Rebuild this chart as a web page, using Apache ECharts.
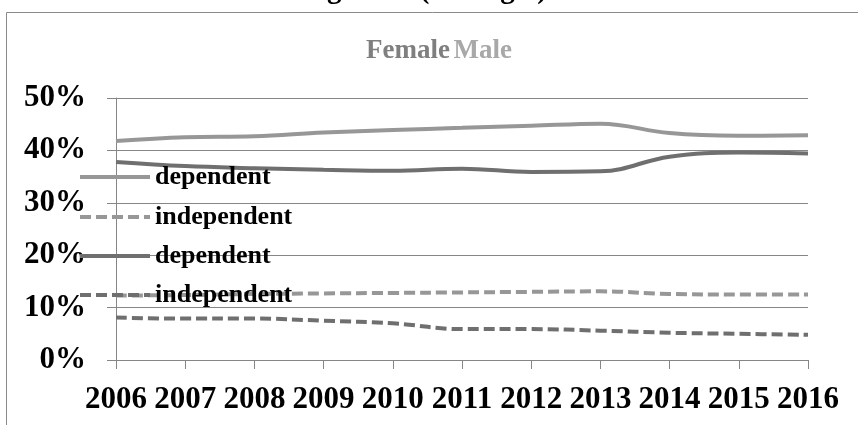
<!DOCTYPE html>
<html>
<head>
<meta charset="utf-8">
<script src="https://cdn.jsdelivr.net/npm/echarts@6/dist/echarts.min.js"></script>
<style>
  html, body { margin: 0; padding: 0; background: #fff; }
  #chart { width: 858px; height: 425px; }
</style>
</head>
<body>
<div id="chart"></div>
<script>
const years = ['2006', '2007', '2008', '2009', '2010', '2011', '2012', '2013', '2014', '2015', '2016'];
const femaleDependent = [41.8, 42.5, 42.7, 43.4, 43.9, 44.3, 44.7, 45.1, 43.3, 42.8, 42.9];
const femaleIndependent = [12.3, 12.4, 12.6, 12.7, 12.8, 12.9, 13.0, 13.1, 12.6, 12.5, 12.5];
const maleDependent = [37.8, 37.0, 36.6, 36.3, 36.1, 36.5, 35.9, 36.0, 38.8, 39.6, 39.4];
const maleIndependent = [8.1, 7.9, 7.9, 7.5, 7.0, 5.9, 5.9, 5.6, 5.2, 5.0, 4.8];

const serif = '"Liberation Serif", "Times New Roman", serif';
const lightGray = '#979797';
const darkGray = '#6f6f6f';

function lineSeries(name, data, color, dashed) {
  return {
    name: name,
    type: 'line',
    data: data,
    smooth: 0.4,
    symbol: 'none',
    color: color,
    lineStyle: { color: color, width: 4, type: dashed ? [11, 5] : 'solid', cap: 'butt' },
    z: 3
  };
}

function legendItem(name, top) {
  return {
    data: [name],
    orient: 'vertical',
    left: 78,
    top: top,
    itemWidth: 70,
    itemHeight: 14,
    itemGap: 0,
    padding: 0,
    selectedMode: false,
    itemStyle: { opacity: 0 },
    lineStyle: { width: 4, opacity: 1 },
    formatter: n => n.split(' ')[1],
    textStyle: { fontFamily: serif, fontWeight: 'bold', fontSize: 26, color: '#000' }
  };
}

const chart = echarts.init(document.getElementById('chart'));
chart.setOption({
  animation: false,
  graphic: [
    {
      type: 'rect',
      shape: { x: 6.5, y: 12.5, width: 900, height: 500 },
      style: { fill: 'none', stroke: '#8a8a8a', lineWidth: 1 },
      z: 0
    },
    {
      type: 'text',
      x: 437, y: 5,
      style: {
        text: 'gender (Portugal)',
        font: 'bold 29px ' + serif,
        fill: '#000',
        align: 'center',
        verticalAlign: 'bottom'
      }
    },
    {
      type: 'text',
      x: 439, y: 51,
      style: {
        text: '{f|Female} {m|Male}',
        align: 'center',
        verticalAlign: 'middle',
        rich: {
          f: { font: 'bold 27px ' + serif, fill: '#7f7f7f' },
          m: { font: 'bold 27px ' + serif, fill: '#a8a8a8' }
        }
      }
    }
  ],
  legend: [
    legendItem('Female dependent', 164),
    legendItem('Female independent', 204),
    legendItem('Male dependent', 243),
    legendItem('Male independent', 282)
  ],
  grid: { left: 116, right: 50, top: 98, bottom: 65 },
  xAxis: {
    type: 'category',
    data: years,
    boundaryGap: false,
    axisLine: { lineStyle: { color: '#868686', width: 1 } },
    axisTick: { show: true, length: 9, inside: false, lineStyle: { color: '#868686' } },
    axisLabel: { fontFamily: serif, fontWeight: 'bold', fontSize: 31, color: '#000', margin: 24, interval: 0 }
  },
  yAxis: {
    type: 'value',
    min: 0,
    max: 50,
    interval: 10,
    axisLine: { show: true, lineStyle: { color: '#868686', width: 1 } },
    axisTick: { show: true, length: 9, lineStyle: { color: '#868686' } },
    splitLine: { lineStyle: { color: '#868686', width: 1 } },
    axisLabel: { fontFamily: serif, fontWeight: 'bold', fontSize: 31, color: '#000', margin: 30, formatter: '{value}%' }
  },
  series: [
    lineSeries('Female dependent', femaleDependent, lightGray, false),
    lineSeries('Female independent', femaleIndependent, lightGray, true),
    lineSeries('Male dependent', maleDependent, darkGray, false),
    lineSeries('Male independent', maleIndependent, darkGray, true)
  ]
});
</script>
</body>
</html>
